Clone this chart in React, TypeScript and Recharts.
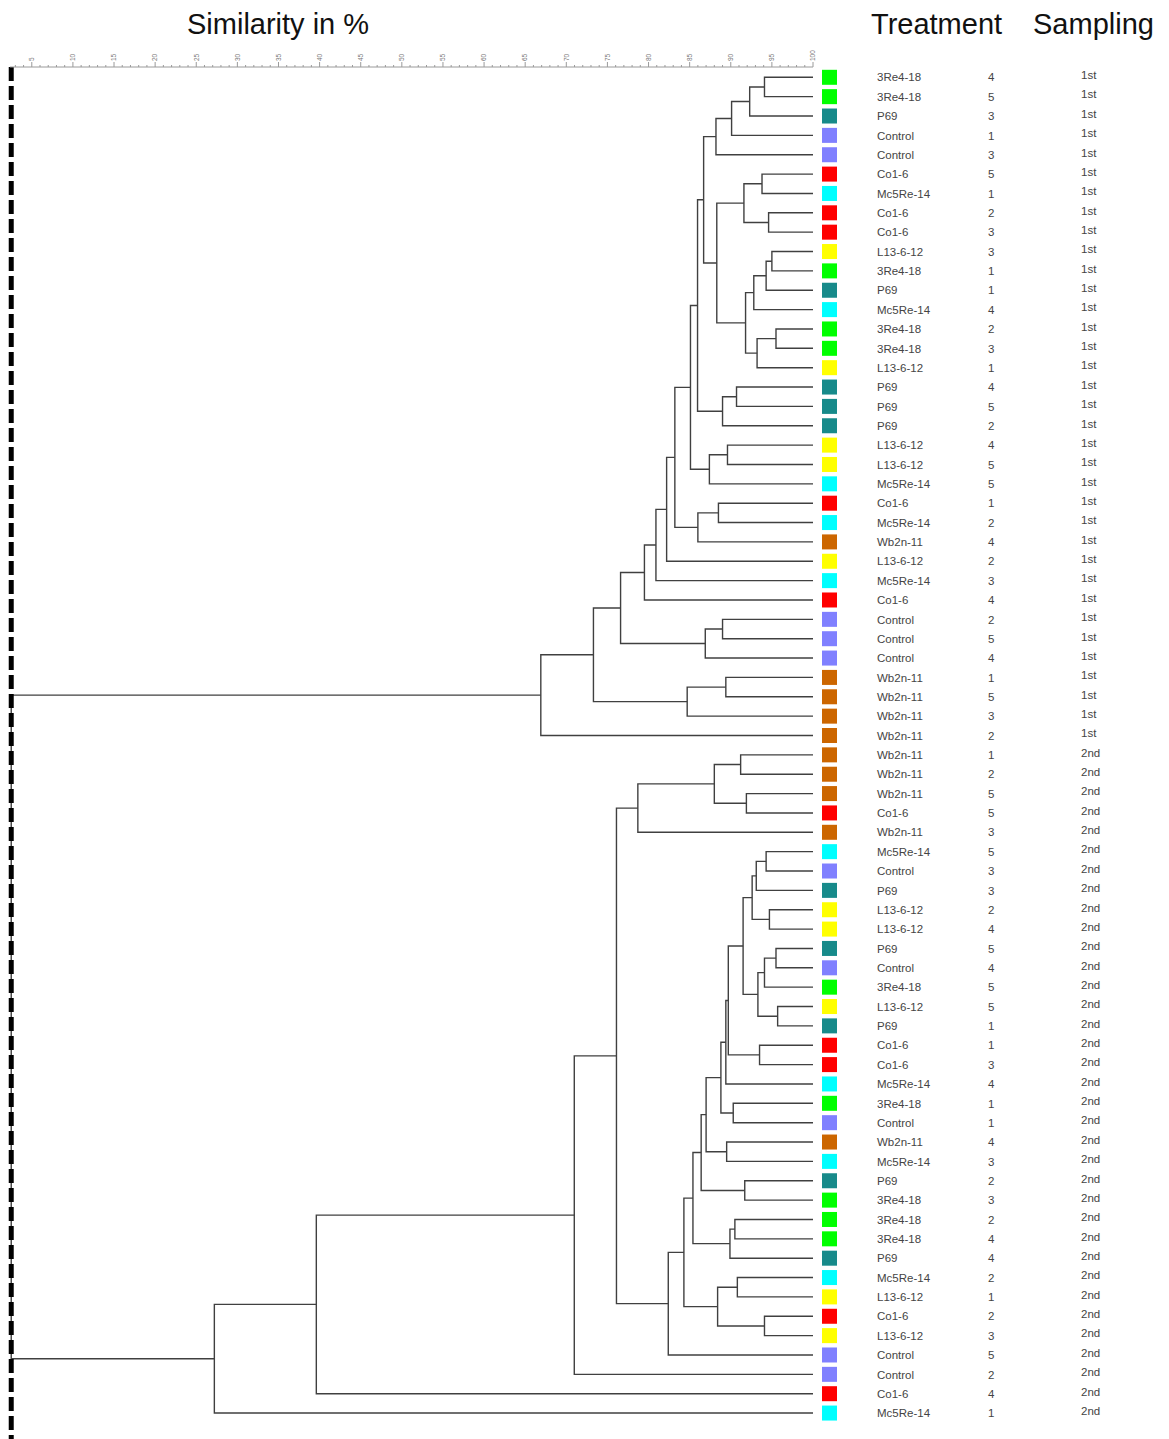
import React from 'react';
import { ComposedChart, Line, XAxis, YAxis, ReferenceLine } from 'recharts';

// ---------- DATA ----------
const TREATMENTS = [
  '3Re4-18', '3Re4-18', 'P69', 'Control', 'Control', 'Co1-6', 'Mc5Re-14', 'Co1-6', 'Co1-6', 'L13-6-12',
  '3Re4-18', 'P69', 'Mc5Re-14', '3Re4-18', '3Re4-18', 'L13-6-12', 'P69', 'P69', 'P69', 'L13-6-12',
  'L13-6-12', 'Mc5Re-14', 'Co1-6', 'Mc5Re-14', 'Wb2n-11', 'L13-6-12', 'Mc5Re-14', 'Co1-6', 'Control', 'Control',
  'Control', 'Wb2n-11', 'Wb2n-11', 'Wb2n-11', 'Wb2n-11', 'Wb2n-11', 'Wb2n-11', 'Wb2n-11', 'Co1-6', 'Wb2n-11',
  'Mc5Re-14', 'Control', 'P69', 'L13-6-12', 'L13-6-12', 'P69', 'Control', '3Re4-18', 'L13-6-12', 'P69',
  'Co1-6', 'Co1-6', 'Mc5Re-14', '3Re4-18', 'Control', 'Wb2n-11', 'Mc5Re-14', 'P69', '3Re4-18', '3Re4-18',
  '3Re4-18', 'P69', 'Mc5Re-14', 'L13-6-12', 'Co1-6', 'L13-6-12', 'Control', 'Control', 'Co1-6', 'Mc5Re-14',
];
const REPLICATES = [
  4, 5, 3, 1, 3, 5, 1, 2, 3, 3, 1, 1, 4, 2, 3, 1, 4, 5, 2, 4, 5, 5, 1, 2, 4, 2, 3, 4, 2, 5, 4, 1, 5, 3, 2,
  1, 2, 5, 5, 3, 5, 3, 3, 2, 4, 5, 4, 5, 5, 1, 1, 3, 4, 1, 1, 4, 3, 2, 3, 2, 4, 4, 2, 1, 2, 3, 5, 2, 4, 1,
];
const SAMPLINGS = [
  '1st', '1st', '1st', '1st', '1st', '1st', '1st', '1st', '1st', '1st', '1st', '1st', '1st', '1st', '1st', '1st', '1st', '1st',
  '1st', '1st', '1st', '1st', '1st', '1st', '1st', '1st', '1st', '1st', '1st', '1st', '1st', '1st', '1st', '1st', '1st',
  '2nd', '2nd', '2nd', '2nd', '2nd', '2nd', '2nd', '2nd', '2nd', '2nd', '2nd', '2nd', '2nd', '2nd', '2nd', '2nd', '2nd', '2nd',
  '2nd', '2nd', '2nd', '2nd', '2nd', '2nd', '2nd', '2nd', '2nd', '2nd', '2nd', '2nd', '2nd', '2nd', '2nd', '2nd', '2nd',
];
const TREATMENT_COLORS: Record<string, string> = {
  '3Re4-18': '#00ff00',
  P69: '#178a8a',
  Control: '#8080ff',
  'Co1-6': '#ff0000',
  'Mc5Re-14': '#00ffff',
  'L13-6-12': '#ffff00',
  'Wb2n-11': '#cc6600',
};

// merges: [childA, childB, similarity %]; ids < 70 are leaves, ids >= 70 are earlier merges (70 + order)
const MERGES_FIRST: [number, number, number][] = [
  [0, 1, 94.1], [70, 2, 92.3], [71, 3, 90.1], [72, 4, 88.2],
  [5, 6, 93.8], [7, 8, 94.6], [74, 75, 91.6],
  [9, 10, 95.0], [77, 11, 94.3], [78, 12, 92.8], [13, 14, 95.5], [80, 15, 93.2], [79, 81, 91.8],
  [76, 82, 88.3], [73, 83, 86.7],
  [16, 17, 90.7], [85, 18, 89.0], [84, 86, 85.96],
  [19, 20, 89.6], [88, 21, 87.4], [87, 89, 85.1],
  [22, 23, 88.5], [91, 24, 86.0], [90, 92, 83.2],
  [93, 25, 82.2], [94, 26, 80.9], [95, 27, 79.5],
  [28, 29, 89.0], [97, 30, 86.9], [96, 98, 76.6],
  [31, 32, 89.4], [100, 33, 84.7], [99, 101, 73.3],
  [102, 34, 66.9],
];
const MERGES_SECOND: [number, number, number][] = [
  [35, 36, 91.2], [37, 38, 91.9], [104, 105, 88.0], [106, 39, 78.7],
  [40, 41, 94.3], [108, 42, 93.1], [43, 44, 94.7], [109, 110, 92.6],
  [45, 46, 95.5], [112, 47, 94.1], [48, 49, 95.7], [113, 114, 93.3], [111, 115, 91.5],
  [50, 51, 93.5], [116, 117, 89.7], [118, 52, 89.4],
  [53, 54, 90.3], [119, 120, 88.8],
  [55, 56, 89.5], [121, 122, 87.0],
  [57, 58, 91.7], [123, 124, 86.4],
  [59, 60, 90.5], [126, 61, 89.9], [125, 127, 85.4],
  [62, 63, 90.8], [64, 65, 94.1], [129, 130, 88.4], [128, 131, 84.3],
  [132, 66, 82.4], [107, 133, 76.1], [134, 67, 70.97], [135, 68, 39.6], [136, 69, 27.2],
];
const ROOT_MERGE: [number, number, number][] = [[103, 137, 2.5]];
const ROOT_DASH_SIM = 2.5;

const SCALE_MIN = 2.35;
const SCALE_MAX = 100;
const SCALE_TICKS = Array.from({ length: 98 }, (_, i) => i + 3);

// ---------- BUILD TREE SEGMENTS ----------
type Pt = { s: number; y: number };
const N_LEAVES = TREATMENTS.length;
const nodes: { y: number; h: number }[] = [];
for (let i = 0; i < N_LEAVES; i++) nodes.push({ y: i, h: SCALE_MAX });
const branches: Pt[][] = [];
[...MERGES_FIRST, ...MERGES_SECOND, ...ROOT_MERGE].forEach(([a, b, s]) => {
  const A = nodes[a];
  const B = nodes[b];
  branches.push([
    { s: A.h, y: A.y },
    { s, y: A.y },
    { s, y: B.y },
    { s: B.h, y: B.y },
  ]);
  nodes.push({ y: (A.y + B.y) / 2, h: s });
});

const LEAF_TICKS = Array.from({ length: N_LEAVES }, (_, i) => i);

const FONT = '"Liberation Sans", Arial, Helvetica, sans-serif';

function ScaleTick(props: any) {
  const { x, y, payload } = props;
  const v = payload.value as number;
  const major = v % 5 === 0;
  return (
    <g>
      <line x1={x} x2={x} y1={y} y2={y - (major ? 5 : 2)} stroke="#9a9a9a" strokeWidth={1} />
      {major && (
        <text
          transform={`translate(${x + 2.3},${y - 6}) rotate(-90)`}
          fontSize={6.5}
          fontFamily={FONT}
          fill="#777"
          textAnchor="start"
        >
          {v}
        </text>
      )}
    </g>
  );
}

function LeafTick(props: any) {
  const { x, y, payload } = props;
  const i = payload.value as number;
  if (i < 0 || i >= N_LEAVES) return null;
  const t = TREATMENTS[i];
  return (
    <g>
      <rect x={x + 9} y={y - 7.5} width={15} height={15} fill={TREATMENT_COLORS[t]} />
      <text x={x + 64} y={y + 4.2} fontSize={11.5} fontFamily={FONT} fill="#444">
        {t}
      </text>
      <text x={x + 175} y={y + 4.2} fontSize={11.5} fontFamily={FONT} fill="#444">
        {REPLICATES[i]}
      </text>
      <text x={x + 268} y={y + 1.8} fontSize={11.5} fontFamily={FONT} fill="#444">
        {SAMPLINGS[i]}
      </text>
    </g>
  );
}

export default function App() {
  return (
    <div style={{ position: 'relative', left: -8, top: -8, width: 1169, height: 1439, background: '#fff' }}>
      <ComposedChart
        width={1169}
        height={1439}
        margin={{ top: 47, right: 6, bottom: 0, left: 10 }}
      >
        <XAxis
          type="number"
          dataKey="s"
          orientation="top"
          domain={[SCALE_MIN, SCALE_MAX]}
          allowDataOverflow
          ticks={SCALE_TICKS}
          interval={0}
          height={20}
          tickSize={0}
          tickMargin={0}
          tickLine={false}
          axisLine={{ stroke: '#9a9a9a', strokeWidth: 1 }}
          tick={<ScaleTick />}
        />
        <YAxis
          type="number"
          dataKey="y"
          orientation="right"
          reversed
          domain={[-0.532, 70.34]}
          allowDataOverflow
          ticks={LEAF_TICKS}
          interval={0}
          width={350}
          tickSize={0}
          tickMargin={0}
          tickLine={false}
          axisLine={false}
          tick={<LeafTick />}
        />
        {branches.map((pts, k) => (
          <Line
            key={k}
            data={pts}
            dataKey="y"
            type="linear"
            stroke="#404040"
            strokeWidth={1.4}
            dot={false}
            activeDot={false}
            isAnimationActive={false}
            legendType="none"
          />
        ))}
        <ReferenceLine
          x={ROOT_DASH_SIM}
          stroke="#000"
          strokeWidth={5}
          strokeDasharray="14 5"
          ifOverflow="visible"
        />
      </ComposedChart>
      <svg
        width={1169}
        height={60}
        style={{ position: 'absolute', left: 0, top: 0, pointerEvents: 'none' }}
      >
        <text x={187} y={34} fontSize={29} fontFamily={FONT} fill="#111">
          Similarity in %
        </text>
        <text x={871} y={34} fontSize={29} fontFamily={FONT} fill="#111">
          Treatment
        </text>
        <text x={1033} y={34} fontSize={29} fontFamily={FONT} fill="#111">
          Sampling
        </text>
      </svg>
    </div>
  );
}
